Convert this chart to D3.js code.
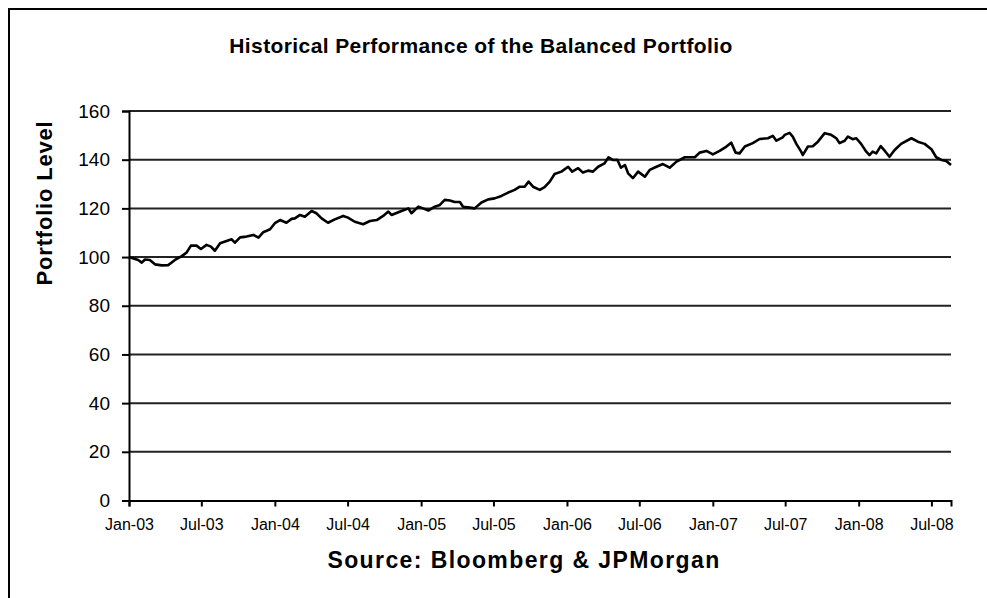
<!DOCTYPE html>
<html>
<head>
<meta charset="utf-8">
<script src="https://cdn.jsdelivr.net/npm/d3@7"></script>
<style>
body { margin: 0; background: #fff; }
text { font-family: Arial, "Liberation Sans", sans-serif; fill: #000; }
</style>
</head>
<body>
<script>
var dates = [
    '2003-01-01', '2003-01-24', '2003-02-02', '2003-02-10', '2003-02-22', '2003-03-07', '2003-03-24', '2003-04-09',
    '2003-04-26', '2003-05-13', '2003-05-25', '2003-06-05', '2003-06-19', '2003-06-30', '2003-07-14', '2003-07-25',
    '2003-08-04', '2003-08-17', '2003-09-02', '2003-09-15', '2003-09-23', '2003-10-06', '2003-10-22', '2003-11-08',
    '2003-11-21', '2003-12-03', '2003-12-20', '2004-01-01', '2004-01-14', '2004-01-30', '2004-02-12', '2004-02-20',
    '2004-03-04', '2004-03-16', '2004-04-02', '2004-04-14', '2004-04-27', '2004-05-13', '2004-05-30', '2004-06-20',
    '2004-07-02', '2004-07-19', '2004-08-09', '2004-08-26', '2004-09-12', '2004-09-28', '2004-10-11', '2004-10-19',
    '2004-11-05', '2004-11-21', '2004-11-30', '2004-12-08', '2004-12-25', '2005-01-06', '2005-01-19', '2005-02-04',
    '2005-02-17', '2005-03-01', '2005-03-14', '2005-03-26', '2005-04-08', '2005-04-16', '2005-05-03', '2005-05-15',
    '2005-06-01', '2005-06-18', '2005-07-04', '2005-07-21', '2005-08-07', '2005-08-23', '2005-09-05', '2005-09-17',
    '2005-09-27', '2005-10-08', '2005-10-25', '2005-11-06', '2005-11-19', '2005-12-01', '2005-12-18', '2006-01-04',
    '2006-01-14', '2006-01-29', '2006-02-10', '2006-02-23', '2006-03-07', '2006-03-20', '2006-04-05', '2006-04-15',
    '2006-04-26', '2006-05-07', '2006-05-16', '2006-05-26', '2006-06-03', '2006-06-15', '2006-06-28', '2006-07-15',
    '2006-07-27', '2006-08-13', '2006-08-29', '2006-09-15', '2006-10-02', '2006-10-23', '2006-11-17', '2006-11-29',
    '2006-12-16', '2007-01-01', '2007-01-18', '2007-02-04', '2007-02-16', '2007-02-27', '2007-03-09', '2007-03-22',
    '2007-04-11', '2007-04-28', '2007-05-19', '2007-05-31', '2007-06-09', '2007-06-25', '2007-06-30', '2007-07-12',
    '2007-07-20', '2007-07-29', '2007-08-10', '2007-08-14', '2007-08-27', '2007-09-08', '2007-09-21', '2007-10-08',
    '2007-10-24', '2007-11-06', '2007-11-14', '2007-11-27', '2007-12-05', '2007-12-17', '2007-12-26', '2008-01-07',
    '2008-01-20', '2008-01-28', '2008-02-05', '2008-02-14', '2008-02-25', '2008-03-06', '2008-03-18', '2008-03-31',
    '2008-04-16', '2008-05-12', '2008-05-28', '2008-06-14', '2008-07-01', '2008-07-13', '2008-07-26', '2008-08-07',
    '2008-08-19'
];
var levels = [
    100.0, 98.8, 97.7, 99.0, 98.8, 97.0, 96.6, 96.7,
    98.8, 100.4, 101.8, 104.7, 104.7, 103.3, 105.0, 104.3,
    102.6, 105.7, 106.6, 107.3, 105.9, 108.1, 108.4, 109.1,
    108.0, 110.2, 111.4, 113.9, 115.2, 114.1, 115.7, 115.9,
    117.3, 116.6, 118.9, 118.0, 115.9, 114.1, 115.5, 116.9,
    116.2, 114.5, 113.5, 114.8, 115.2, 116.9, 118.7, 117.3,
    118.4, 119.4, 120.0, 118.0, 120.7, 120.0, 119.1, 120.7,
    121.4, 123.5, 123.2, 122.6, 122.6, 120.7, 120.3, 120.0,
    122.4, 123.7, 124.1, 125.1, 126.5, 127.6, 128.9, 128.9,
    131.0, 128.9, 127.6, 128.7, 131.0, 134.1, 135.1, 137.1,
    135.1, 136.5, 134.7, 135.5, 135.1, 137.1, 138.5, 141.0,
    139.9, 140.0, 136.7, 137.8, 134.4, 132.4, 135.1, 133.0,
    135.8, 137.1, 138.2, 136.7, 139.2, 141.0, 141.0, 142.9,
    143.6, 142.2, 143.6, 145.4, 147.0, 142.9, 142.6, 145.4,
    146.8, 148.5, 148.8, 149.8, 147.8, 149.2, 150.2, 151.0,
    149.5, 146.5, 143.3, 141.9, 145.4, 145.5, 147.4, 150.9,
    150.2, 148.8, 146.8, 147.8, 149.5, 148.4, 148.8, 146.5,
    143.3, 141.9, 143.3, 142.6, 145.6, 143.7, 141.2, 144.0,
    146.5, 148.8, 147.4, 146.5, 144.3, 141.0, 139.9, 139.5,
    137.8
];
var yTicks = [0, 20, 40, 60, 80, 100, 120, 140, 160];
var xTickLabels = ['Jan-03', 'Jul-03', 'Jan-04', 'Jul-04', 'Jan-05', 'Jul-05', 'Jan-06', 'Jul-06', 'Jan-07', 'Jul-07', 'Jan-08', 'Jul-08'];

var width = 987;
var height = 598;
var parse = d3.timeParse('%Y-%m-%d');
var tickFormat = d3.timeFormat('%b-%y');

var data = dates.map(function (d, i) {
    return { date: parse(d), value: levels[i] };
});

var svg = d3.select('body')
            .append('svg')
            .attr('width', width)
            .attr('height', height);

// outer chart frame (runs off the right and bottom edges)
svg.append('rect')
    .attr('x', 9)
    .attr('y', 9)
    .attr('width', 1000)
    .attr('height', 620)
    .attr('fill', '#fff')
    .attr('stroke', '#000')
    .attr('stroke-width', 2);

var x = d3.scaleTime()
            .domain([parse('2003-01-01'), parse('2008-08-19')])
            .range([129, 951]);
var y = d3.scaleLinear()
            .domain([0, 160])
            .range([500.5, 111]);

// horizontal grid lines
svg.selectAll('.grid')
    .data(yTicks.slice(1))
    .enter()
    .append('line')
    .attr('class', 'grid')
    .attr('x1', 129)
    .attr('x2', 951)
    .attr('y1', function (d) { return y(d); })
    .attr('y2', function (d) { return y(d); })
    .attr('stroke', '#222')
    .attr('stroke-width', 2);

var yAxis = svg.append('g')
    .attr('transform', 'translate(129,0)')
    .call(d3.axisLeft(y).tickValues(yTicks).tickSize(7).tickPadding(12));

var xTickDates = xTickLabels.map(function (s) {
    return d3.timeParse('%b-%y')(s);
});
var xAxis = svg.append('g')
    .attr('transform', 'translate(0,' + y(0) + ')')
    .call(d3.axisBottom(x).tickValues(xTickDates).tickFormat(tickFormat).tickSize(6).tickPadding(12));

[yAxis, xAxis].forEach(function (g) {
    g.select('.domain').attr('stroke', '#000').attr('stroke-width', 2);
    g.selectAll('.tick line').attr('stroke', '#000').attr('stroke-width', 2);
});
yAxis.selectAll('.tick text')
    .attr('font-size', 19)
    .attr('font-family', 'Arial, "Liberation Sans", sans-serif')
    .attr('fill', '#000');
xAxis.selectAll('.tick text')
    .attr('font-size', 16)
    .attr('font-family', 'Arial, "Liberation Sans", sans-serif')
    .attr('fill', '#000');

var line = d3.line()
    .x(function (d) { return x(d.date); })
    .y(function (d) { return y(d.value); });

svg.append('path')
    .datum(data)
    .attr('d', line)
    .attr('fill', 'none')
    .attr('stroke', '#000')
    .attr('stroke-width', 2.6)
    .attr('stroke-linejoin', 'round');

svg.append('text')
    .attr('x', 481)
    .attr('y', 53)
    .attr('text-anchor', 'middle')
    .attr('font-size', 21)
    .attr('font-weight', 'bold')
    .attr('letter-spacing', 0.4)
    .text('Historical Performance of the Balanced Portfolio');

svg.append('text')
    .attr('transform', 'translate(52,203) rotate(-90)')
    .attr('text-anchor', 'middle')
    .attr('font-size', 22)
    .attr('font-weight', 'bold')
    .attr('letter-spacing', 0.8)
    .text('Portfolio Level');

svg.append('text')
    .attr('x', 524)
    .attr('y', 568)
    .attr('text-anchor', 'middle')
    .attr('font-size', 23)
    .attr('font-weight', 'bold')
    .attr('letter-spacing', 1.4)
    .text('Source: Bloomberg & JPMorgan');
</script>
</body>
</html>
